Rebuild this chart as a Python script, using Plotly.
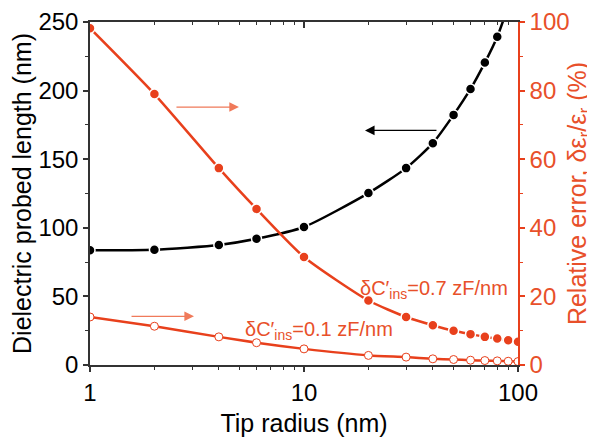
import plotly.graph_objects as go

# tip radius (nm)
radius = [1, 2, 4, 6, 10, 20, 30, 40, 50, 60, 70, 80, 90, 100]

# dielectric probed length (nm), left axis
probed_length = [83.6, 84.0, 87.5, 92.0, 100.6, 125.3, 143.5, 161.7, 182.3, 201.2, 220.4, 239.3, 262.0, 286.0]

# relative error (%), right axis
err_07 = [98.2, 79.0, 57.4, 45.5, 31.5, 18.8, 14.0, 11.6, 10.0, 9.0, 8.2, 7.7, 7.2, 6.8]
err_01 = [14.0, 11.3, 8.2, 6.5, 4.7, 2.8, 2.3, 1.8, 1.6, 1.4, 1.3, 1.2, 1.1, 1.0]

RED = "#e8401c"
RED_TXT = "#e8502a"
ARROW_RED = "#f07a5a"
FONT = "Liberation Sans, Arial, sans-serif"

fig = go.Figure()

# black curve on the bottom/left axes
fig.add_trace(go.Scatter(
    x=radius, y=probed_length, xaxis="x", yaxis="y",
    mode="lines+markers", line=dict(color="black", width=2.5, shape="spline", smoothing=0.6),
    marker=dict(size=10, color="black", line=dict(color="white", width=1.5)),
    showlegend=False,
))
# red curves on the top/right axes
fig.add_trace(go.Scatter(
    x=radius, y=err_07, xaxis="x2", yaxis="y2",
    mode="lines+markers", line=dict(color=RED, width=2.5, shape="spline", smoothing=0.6),
    marker=dict(size=10, color=RED, line=dict(color="white", width=1.5)),
    showlegend=False,
))
fig.add_trace(go.Scatter(
    x=radius, y=err_01, xaxis="x2", yaxis="y2",
    mode="lines+markers", line=dict(color=RED, width=2.5, shape="spline", smoothing=0.6),
    marker=dict(size=8, color="white", line=dict(color=RED, width=1)),
    showlegend=False,
))

minor_x = [2, 3, 4, 5, 6, 7, 8, 9, 20, 30, 40, 50, 60, 70, 80, 90]

# page body adds an 8px offset, so the figure is drawn 8px smaller
fig.update_layout(
    width=587, height=435,
    margin=dict(l=82, r=77, t=14, b=78),
    paper_bgcolor="white", plot_bgcolor="white",
    font=dict(family=FONT, size=20.5, color="black"),
    xaxis=dict(
        type="log", range=[0, 2], automargin=False,
        tickvals=[1, 10, 100], ticktext=["1", "10", "100"],
        ticks="outside", ticklen=5, tickwidth=1.5, tickcolor="#333",
        minor=dict(tickvals=minor_x, ticks="outside", ticklen=3, tickwidth=1.2, tickcolor="#333"),
        showline=True, linecolor="#333", linewidth=1.5,
        showgrid=False, zeroline=False,
        tickfont=dict(size=24),
        title=dict(text="Tip radius (nm)", standoff=10),
    ),
    xaxis2=dict(
        type="log", range=[0, 2], overlaying="x", side="top", anchor="y2", automargin=False,
        tickvals=[1, 10, 100], showticklabels=False,
        ticks="inside", ticklen=6, tickwidth=1.5, tickcolor="#333",
        minor=dict(tickvals=minor_x, ticks="inside", ticklen=3, tickwidth=1.2, tickcolor="#333"),
        showline=True, linecolor="#333", linewidth=1.5,
        showgrid=False, zeroline=False,
    ),
    yaxis=dict(
        range=[0, 250], tick0=0, dtick=50, automargin=False,
        ticks="outside", ticklen=5, tickwidth=1.5, tickcolor="#333",
        minor=dict(dtick=25, ticks="outside", ticklen=3, tickwidth=1.2, tickcolor="#333"),
        showline=True, linecolor="#333", linewidth=1.5,
        showgrid=False, zeroline=False,
        tickfont=dict(size=24),
        title=dict(text="Dielectric probed length (nm)", standoff=4),
    ),
    yaxis2=dict(
        range=[0, 100], tick0=0, dtick=20, overlaying="y", side="right", anchor="x2", automargin=False,
        ticks="outside", ticklen=5, tickwidth=1.5, tickcolor=RED,
        minor=dict(dtick=10, ticks="outside", ticklen=3, tickwidth=1.2, tickcolor=RED),
        showline=True, linecolor=RED, linewidth=1.5,
        tickfont=dict(color=RED_TXT, size=24),
        showgrid=False, zeroline=False,
        title=dict(text="Relative error, δε<sub>r</sub>/ε<sub>r</sub> (%)", font=dict(color=RED_TXT), standoff=2),
    ),
)

# direction arrows (log10 x positions)
arrows = [
    dict(x=0.696, y=188, ax=0.397, ay=188, color=ARROW_RED, width=1.2),
    dict(x=1.285, y=171, ax=1.626, ay=171, color="black", width=1.2),
    dict(x=0.486, y=35.5, ax=0.187, ay=35.5, color=ARROW_RED, width=1.2),
]
for a in arrows:
    fig.add_annotation(
        x=a["x"], y=a["y"], ax=a["ax"], ay=a["ay"],
        xref="x", yref="y", axref="x", ayref="y",
        text="", showarrow=True, arrowhead=2, arrowsize=1.6,
        arrowwidth=a["width"], arrowcolor=a["color"],
    )

fig.add_annotation(
    x=1.25, y=55, xref="x", yref="y", xanchor="left", yanchor="middle",
    text="δC′<sub>ins</sub>=0.7 zF/nm", showarrow=False,
    font=dict(family=FONT, size=20, color=RED_TXT),
)
fig.add_annotation(
    x=0.713, y=25.5, xref="x", yref="y", xanchor="left", yanchor="middle",
    text="δC′<sub>ins</sub>=0.1 zF/nm", showarrow=False,
    font=dict(family=FONT, size=20, color=RED_TXT),
)

fig.write_html("out.html")
